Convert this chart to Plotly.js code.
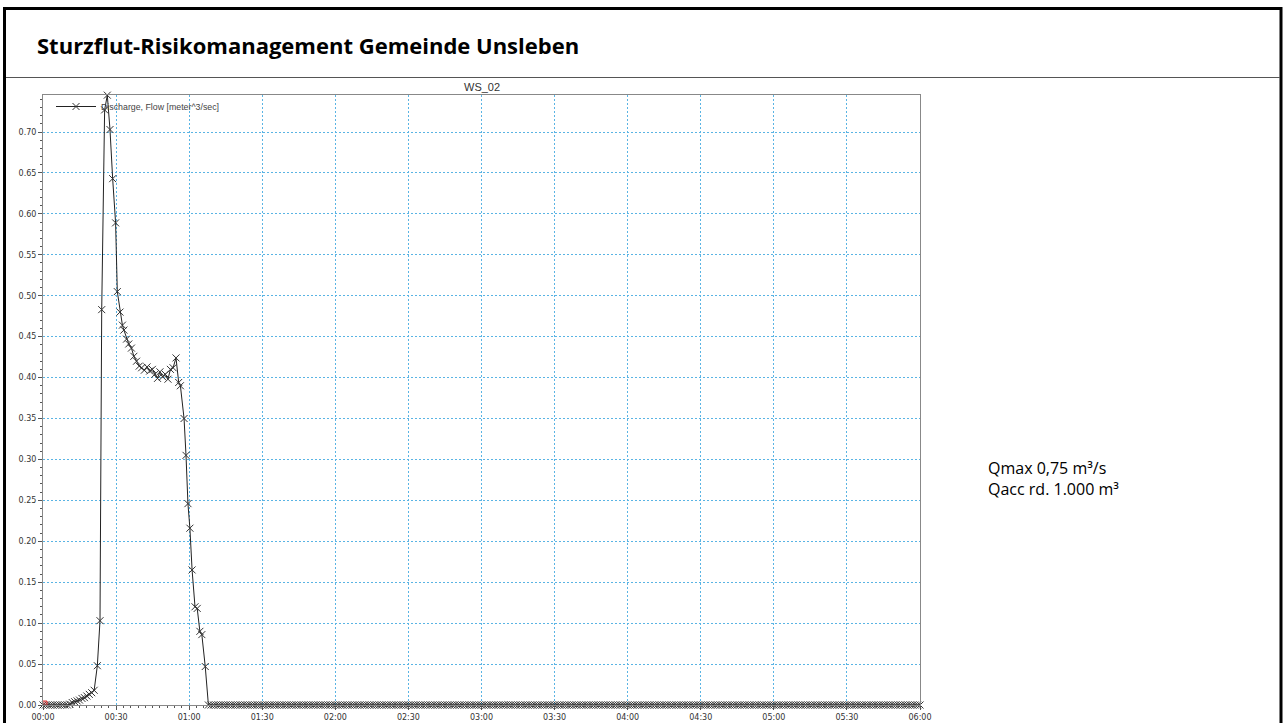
<!DOCTYPE html>
<html>
<head>
<meta charset="utf-8">
<script src="https://cdn.plot.ly/plotly-3.0.1.min.js"></script>
<style>
html,body{margin:0;padding:0;background:#fff;}
#chart{width:1287px;height:723px;}
</style>
</head>
<body>
<div id="chart"></div>
<script>
// ---- data (minutes since 00:00, discharge in m^3/s) ----
const headTime = [0,1,2,3,4,5,6,7,8,9,10,11,12,13,14,15,16,17,18,19,20,21];
const headFlow = [0,0,0,0,0,0,0,0,0,0,0,0.001,0.003,0.004,0.005,0.006,0.008,0.009,0.011,0.013,0.015,0.018];

const eventTime = [22.3,23.4,24.1,25.3,26.4,27.5,28.6,29.8,30.5,31.6,32.6,33.2,34.3,35.2,36.3,37.3,38.4,39.5,40.5,41.6,42.7,43.8,44.9,45.9,47.0,48.0,49.1,50.2,51.3,52.3,53.4,54.6,55.7,56.4,57.9,58.7,59.5,60.3,61.2,62.4,63.3,64.4,65.2,66.6,67.9];
const eventFlow = [0.048,0.103,0.483,0.727,0.745,0.703,0.643,0.589,0.505,0.480,0.464,0.458,0.447,0.441,0.436,0.426,0.420,0.414,0.412,0.409,0.413,0.408,0.410,0.404,0.399,0.407,0.401,0.404,0.398,0.410,0.412,0.424,0.394,0.390,0.350,0.305,0.246,0.216,0.165,0.120,0.118,0.090,0.086,0.047,0];

const tailTime = [69,70,71,72,73,74,75,76,77,78,79,
80,81,82,83,84,85,86,87,88,89,90,91,92,93,94,95,96,97,98,99,
100,101,102,103,104,105,106,107,108,109,110,111,112,113,114,115,116,117,118,119,
120,121,122,123,124,125,126,127,128,129,130,131,132,133,134,135,136,137,138,139,
140,141,142,143,144,145,146,147,148,149,150,151,152,153,154,155,156,157,158,159,
160,161,162,163,164,165,166,167,168,169,170,171,172,173,174,175,176,177,178,179,
180,181,182,183,184,185,186,187,188,189,190,191,192,193,194,195,196,197,198,199,
200,201,202,203,204,205,206,207,208,209,210,211,212,213,214,215,216,217,218,219,
220,221,222,223,224,225,226,227,228,229,230,231,232,233,234,235,236,237,238,239,
240,241,242,243,244,245,246,247,248,249,250,251,252,253,254,255,256,257,258,259,
260,261,262,263,264,265,266,267,268,269,270,271,272,273,274,275,276,277,278,279,
280,281,282,283,284,285,286,287,288,289,290,291,292,293,294,295,296,297,298,299,
300,301,302,303,304,305,306,307,308,309,310,311,312,313,314,315,316,317,318,319,
320,321,322,323,324,325,326,327,328,329,330,331,332,333,334,335,336,337,338,339,
340,341,342,343,344,345,346,347,348,349,350,351,352,353,354,355,356,357,358,359,360];
const tailFlow = [0,0,0,0,0,0,0,0,0,0,0,
0,0,0,0,0,0,0,0,0,0,0,0,0,0,0,0,0,0,0,0,
0,0,0,0,0,0,0,0,0,0,0,0,0,0,0,0,0,0,0,0,
0,0,0,0,0,0,0,0,0,0,0,0,0,0,0,0,0,0,0,0,
0,0,0,0,0,0,0,0,0,0,0,0,0,0,0,0,0,0,0,0,
0,0,0,0,0,0,0,0,0,0,0,0,0,0,0,0,0,0,0,0,
0,0,0,0,0,0,0,0,0,0,0,0,0,0,0,0,0,0,0,0,
0,0,0,0,0,0,0,0,0,0,0,0,0,0,0,0,0,0,0,0,
0,0,0,0,0,0,0,0,0,0,0,0,0,0,0,0,0,0,0,0,
0,0,0,0,0,0,0,0,0,0,0,0,0,0,0,0,0,0,0,0,
0,0,0,0,0,0,0,0,0,0,0,0,0,0,0,0,0,0,0,0,
0,0,0,0,0,0,0,0,0,0,0,0,0,0,0,0,0,0,0,0,
0,0,0,0,0,0,0,0,0,0,0,0,0,0,0,0,0,0,0,0,
0,0,0,0,0,0,0,0,0,0,0,0,0,0,0,0,0,0,0,0,
0,0,0,0,0,0,0,0,0,0,0,0,0,0,0,0,0,0,0,0,0];

const xTickVals = [0,30,60,90,120,150,180,210,240,270,300,330,360];
const xTickText = ['00:00','00:30','01:00','01:30','02:00','02:30','03:00','03:30','04:00','04:30','05:00','05:30','06:00'];

const pageTitle = 'Sturzflut-Risikomanagement Gemeinde Unsleben';
const chartTitle = 'WS_02';
const seriesName = 'Discharge, Flow [meter^3/sec]';
const noteLines = ['Qmax 0,75 m³/s', 'Qacc rd. 1.000 m³'];

// ---- layout geometry (pixels) ----
const W = 1287, H = 723;
const PL = 43, PR = 920, PT = 95, PB = 705;
const px2x = px => (px - PL) / (PR - PL);
const py2y = py => (PB - py) / (PB - PT);

const time = headTime.concat(eventTime, tailTime);
const flow = headFlow.concat(eventFlow, tailFlow);

const trace = {
  x: time, y: flow, type: 'scatter', mode: 'lines+markers', name: seriesName,
  cliponaxis: false,
  line: {color: '#222', width: 1},
  marker: {symbol: 'x-thin', size: 7, color: '#333', line: {color: '#333', width: 1}}
};

const tickFont = {family: 'DejaVu Sans', size: 8, color: '#333'};
const gridColor = '#5ab4e4';

const layout = {
  width: W, height: H,
  margin: {l: PL, r: W - PR, t: PT, b: H - PB, pad: 0},
  paper_bgcolor: '#fff', plot_bgcolor: '#fff',
  showlegend: true,
  legend: {x: px2x(51), y: py2y(92), xanchor: 'left', yanchor: 'top', bgcolor: 'rgba(0,0,0,0)',
           font: {family: 'Liberation Sans', size: 8.8, color: '#444'}, itemwidth: 40, tracegroupgap: 0},
  xaxis: {
    range: [0, 360], tickmode: 'array', tickvals: xTickVals, ticktext: xTickText,
    tickfont: tickFont, ticks: 'outside', ticklen: 4, tickcolor: '#555',
    showline: true, linecolor: '#888', linewidth: 1, mirror: true,
    showgrid: true, gridcolor: gridColor, griddash: '2px,2px', gridwidth: 1, zeroline: false,
    minor: {tickmode: 'linear', tick0: 0, dtick: 3, ticks: 'outside', ticklen: 2, tickcolor: '#555', showgrid: false}
  },
  yaxis: {
    range: [0, 0.7452], tickmode: 'linear', tick0: 0, dtick: 0.05, tickformat: '.2f',
    tickfont: tickFont, ticks: 'outside', ticklen: 4, tickcolor: '#555',
    showline: true, linecolor: '#888', linewidth: 1, mirror: true,
    showgrid: true, gridcolor: gridColor, griddash: '2px,2px', gridwidth: 1, zeroline: false,
    minor: {tickmode: 'linear', tick0: 0, dtick: 0.01, ticks: 'outside', ticklen: 2, tickcolor: '#555', showgrid: false}
  },
  shapes: [
    {type: 'rect', xref: 'paper', yref: 'paper', x0: px2x(4.5), x1: px2x(1281), y0: py2y(760), y1: py2y(8.5),
     line: {color: '#000', width: 3}, fillcolor: 'rgba(0,0,0,0)', layer: 'below'},
    {type: 'line', xref: 'paper', yref: 'paper', x0: px2x(6), x1: px2x(1280), y0: py2y(77.5), y1: py2y(77.5),
     line: {color: '#555', width: 1}},
    {type: 'rect', xref: 'x', yref: 'y', xsizemode: 'pixel', ysizemode: 'pixel', xanchor: 0, yanchor: 0,
     x0: -4, x1: 4, y0: -4, y1: 4, line: {color: '#e03030', width: 1}, fillcolor: 'rgba(230,80,80,0.35)'}
  ],
  annotations: [
    {xref: 'paper', yref: 'paper', x: px2x(35), y: py2y(45), xanchor: 'left', yanchor: 'middle', showarrow: false,
     text: '<b>' + pageTitle + '</b>', font: {family: 'Open Sans', size: 22, color: '#000'}},
    {xref: 'paper', yref: 'paper', x: 0.5, y: py2y(87), xanchor: 'center', yanchor: 'middle', showarrow: false,
     text: chartTitle, font: {family: 'Liberation Sans', size: 11, color: '#333'}},
    {xref: 'paper', yref: 'paper', x: px2x(986), y: py2y(468), xanchor: 'left', yanchor: 'middle', showarrow: false,
     text: noteLines[0], font: {family: 'Open Sans', size: 16, color: '#000'}},
    {xref: 'paper', yref: 'paper', x: px2x(986), y: py2y(489), xanchor: 'left', yanchor: 'middle', showarrow: false,
     text: noteLines[1], font: {family: 'Open Sans', size: 16, color: '#000'}}
  ]
};

Plotly.newPlot('chart', [trace], layout, {displayModeBar: false, staticPlot: true});
</script>
</body>
</html>
